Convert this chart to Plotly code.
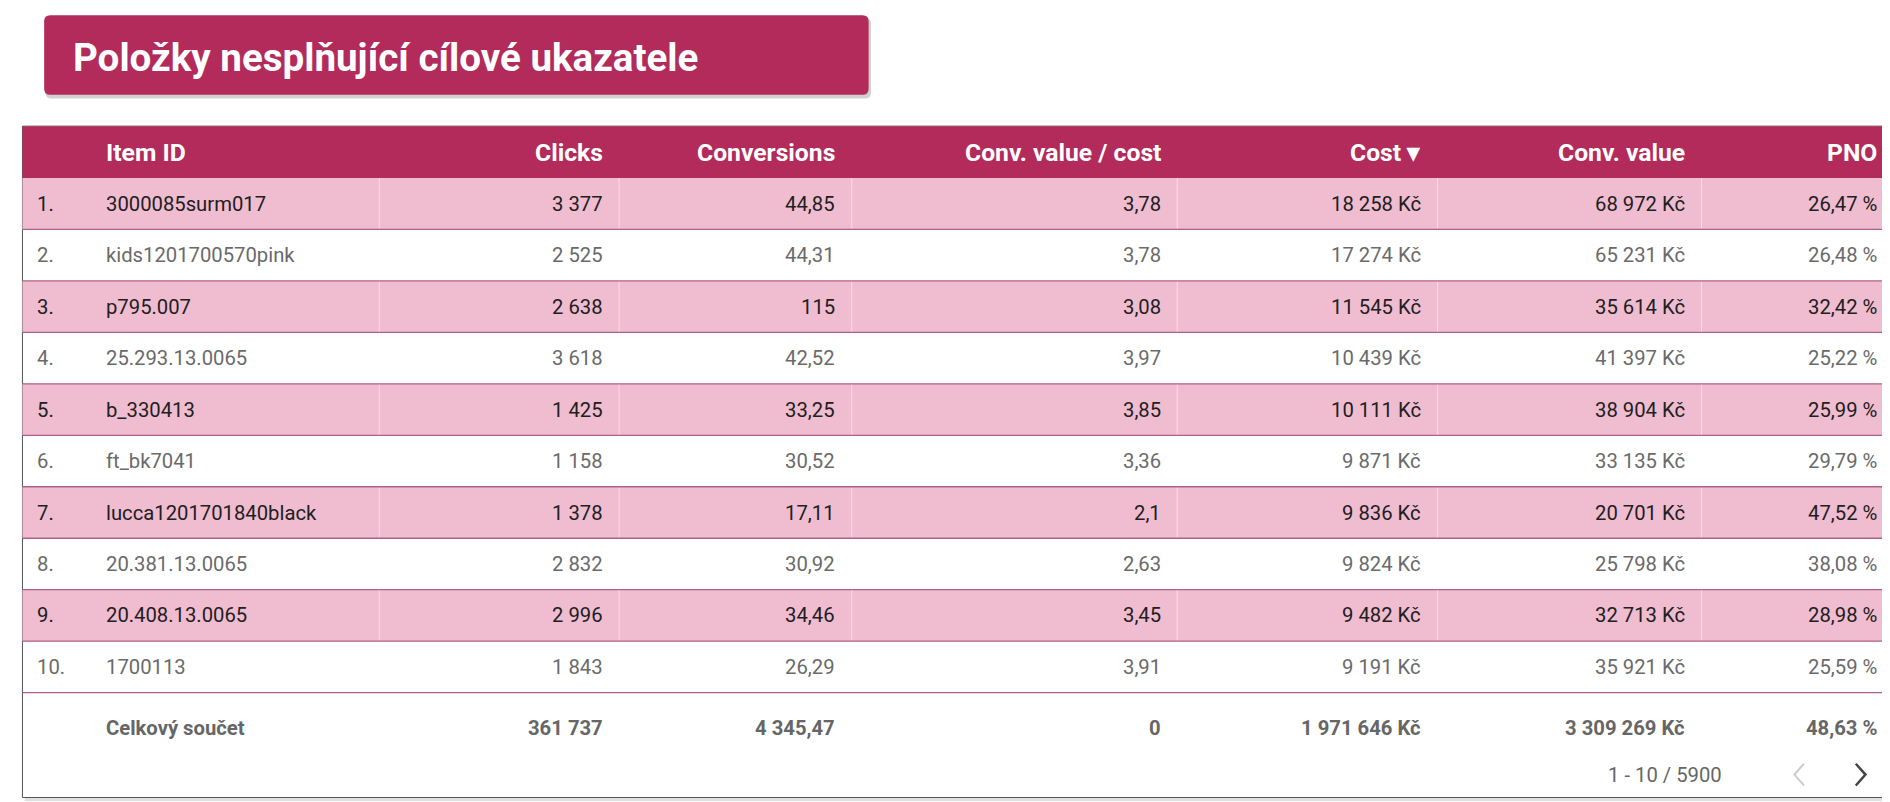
import plotly.graph_objects as go

title = "Položky nesplňující cílové ukazatele"
headers = ["Item ID", "Clicks", "Conversions", "Conv. value / cost", "Cost ▾", "Conv. value", "PNO"]
item_ids = ["3000085surm017", "kids1201700570pink", "p795.007", "25.293.13.0065", "b_330413",
            "ft_bk7041", "lucca1201701840black", "20.381.13.0065", "20.408.13.0065", "1700113"]
clicks = ["3 377", "2 525", "2 638", "3 618", "1 425", "1 158", "1 378", "2 832", "2 996", "1 843"]
conversions = ["44,85", "44,31", "115", "42,52", "33,25", "30,52", "17,11", "30,92", "34,46", "26,29"]
roas = ["3,78", "3,78", "3,08", "3,97", "3,85", "3,36", "2,1", "2,63", "3,45", "3,91"]
cost = ["18 258 Kč", "17 274 Kč", "11 545 Kč", "10 439 Kč", "10 111 Kč", "9 871 Kč", "9 836 Kč",
        "9 824 Kč", "9 482 Kč", "9 191 Kč"]
conv_value = ["68 972 Kč", "65 231 Kč", "35 614 Kč", "41 397 Kč", "38 904 Kč", "33 135 Kč",
              "20 701 Kč", "25 798 Kč", "32 713 Kč", "35 921 Kč"]
pno = ["26,47 %", "26,48 %", "32,42 %", "25,22 %", "25,99 %", "29,79 %", "47,52 %", "38,08 %",
       "28,98 %", "25,59 %"]
totals = ["Celkový součet", "361 737", "4 345,47", "0", "1 971 646 Kč", "3 309 269 Kč", "48,63 %"]
pager = "1 - 10 / 5900"

W, H = 1890, 802
S = 1890 / 1568  # layout measured on a 1568-wide view
MAG = "#b22b5a"
PINK = "#f0bcd0"
FONT = "Roboto"

fig = go.Figure()
shapes, ann = [], []

def rrect(x0, y0, x1, y1, r):
    x0, y0, x1, y1, r = [v * S for v in (x0, y0, x1, y1, r)]
    return (f"M{x0+r},{y0} L{x1-r},{y0} Q{x1},{y0} {x1},{y0+r} L{x1},{y1-r} Q{x1},{y1} {x1-r},{y1} "
            f"L{x0+r},{y1} Q{x0},{y1} {x0},{y1-r} L{x0},{y0+r} Q{x0},{y0} {x0+r},{y0} Z")

def rect(x0, y0, x1, y1, **kw):
    shapes.append(dict(type="rect", x0=x0*S, y0=y0*S, x1=x1*S, y1=y1*S, **kw))

def line(x0, y0, x1, y1, **kw):
    shapes.append(dict(type="line", x0=x0*S, y0=y0*S, x1=x1*S, y1=y1*S, **kw))

def text(x, y, t, anchor, size, color):
    ann.append(dict(x=x*S, y=y*S, text=t, xanchor=anchor, yanchor="middle",
                    font=dict(family=FONT, size=size*S, color=color), showarrow=False))

shapes.append(dict(type="path", path=rrect(31, 8, 716, 75, 5), fillcolor="rgba(0,0,0,0.18)", line_width=0, layer="below"))
shapes.append(dict(type="path", path=rrect(30, 6, 714, 72, 5), fillcolor=MAG, line_width=0, layer="below"))
text(52, 41, f"<b>{title}</b>", "left", 32, "white")

TX0, TX1, TY0, TY1 = 12, 1562, 98, 655
HEAD_B = 141
ROW_H = 42.7
rect(TX0+2, TY0+3, TX1+2, TY1+3, fillcolor="rgba(0,0,0,0.12)", line_width=0, layer="below")
rect(TX0, TY0, TX1, TY1, fillcolor="white", line=dict(color="#555", width=1), layer="below")
rect(TX0, TY0, TX1, HEAD_B, fillcolor=MAG, line_width=0, layer="below")

col_right = [None, 495, 688, 958, 1174, 1393, 1552]
col_sep = [308, 507, 700, 970, 1186, 1405]
ITEM_X, IDX_X = 80, 22

text(ITEM_X, 119.5, f"<b>{headers[0]}</b>", "left", 20.5, "white")
for i in range(1, 7):
    text(col_right[i], 119.5, f"<b>{headers[i]}</b>", "right", 20.5, "white")

cols = [clicks, conversions, roas, cost, conv_value, pno]
for r in range(len(item_ids)):
    y0 = HEAD_B + r * ROW_H
    y1 = y0 + ROW_H
    yc = (y0 + y1) / 2
    odd = r % 2 == 0
    if odd:
        rect(TX0, y0, TX1, y1, fillcolor=PINK, line_width=0, layer="below")
        for sx in col_sep:
            line(sx, y0, sx, y1, line=dict(color="rgba(255,255,255,0.5)", width=1), layer="below")
    line(TX0, y1, TX1, y1, line=dict(color="#b06088", width=1.3))
    color = "#202020" if odd else "#6a6a6a"
    text(IDX_X, yc, f"{r+1}.", "left", 16.8, color)
    text(ITEM_X, yc, item_ids[r], "left", 16.8, color)
    for i, c in enumerate(cols):
        text(col_right[i+1], yc, c[r], "right", 16.8, color)

TOT_Y = 597
text(ITEM_X, TOT_Y, f"<b>{totals[0]}</b>", "left", 16.8, "#666")
for i in range(1, 7):
    text(col_right[i], TOT_Y, f"<b>{totals[i]}</b>", "right", 16.8, "#666")

text(1424, 636, pager, "right", 16.8, "#666")
shapes.append(dict(type="path", path=f"M{1490*S},{627*S} L{1482*S},{636*S} L{1490*S},{645*S}", line=dict(color="#ccc", width=2)))
shapes.append(dict(type="path", path=f"M{1533*S},{627*S} L{1541*S},{636*S} L{1533*S},{645*S}", line=dict(color="#444", width=2.5)))

fig.update_layout(width=W, height=H, margin=dict(l=0, r=0, t=0, b=0),
                  paper_bgcolor="white", plot_bgcolor="white",
                  xaxis=dict(range=[0, W], visible=False, fixedrange=True),
                  yaxis=dict(range=[H, 0], visible=False, fixedrange=True),
                  shapes=shapes, annotations=ann, showlegend=False)
fig.write_html("out.html", config={"displayModeBar": False})
